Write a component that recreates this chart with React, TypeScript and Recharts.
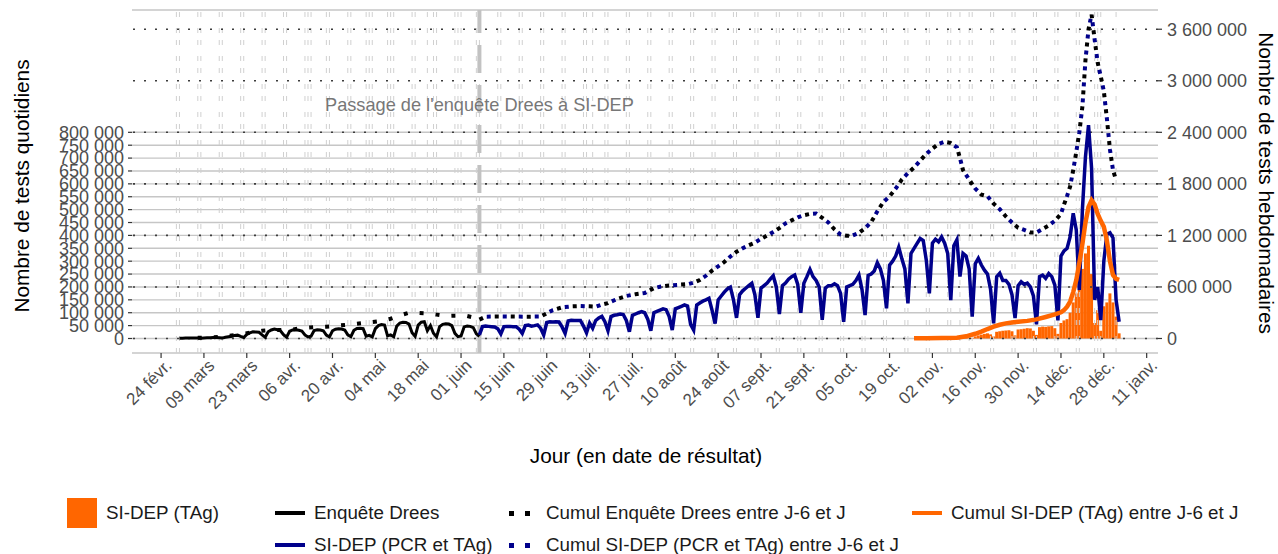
import { Bar, CartesianGrid, ComposedChart, Line, ReferenceLine, XAxis, YAxis } from 'recharts';

const FONT = '"Liberation Sans", Arial, Helvetica, sans-serif';
const WIDTH = 1278;
const HEIGHT = 554;

// x is counted in days since 24 Feb 2020 (first tick)
const ORIGIN = Date.UTC(2020, 1, 24);
const dayOf = (iso: string) => {
  const [y, m, d] = iso.split('-').map(Number);
  return Math.round((Date.UTC(y, m - 1, d) - ORIGIN) / 86400000);
};

const xTickLabels = [
  '24 févr.', '09 mars', '23 mars', '06 avr.', '20 avr.', '04 mai', '18 mai', '01 juin',
  '15 juin', '29 juin', '13 juil.', '27 juil.', '10 août', '24 août', '07 sept.', '21 sept.',
  '05 oct.', '19 oct.', '02 nov.', '16 nov.', '30 nov.', '14 déc.', '28 déc.', '11 janv.',
];
const dailyTicks = [
  0, 50000, 100000, 150000, 200000, 250000, 300000, 350000, 400000,
  450000, 500000, 550000, 600000, 650000, 700000, 750000, 800000,
];
const weeklyTicks = [0, 600000, 1200000, 1800000, 2400000, 3000000, 3600000];

// weekends between these dates + public holidays get a dashed vertical line
const offDaysFrom = '2020-02-29';
const offDaysTo = '2021-01-01';
const holidays = [
  '2020-04-13', '2020-05-01', '2020-05-08', '2020-05-21', '2020-06-01', '2020-07-14',
  '2020-08-15', '2020-11-01', '2020-11-11', '2020-12-25', '2021-01-01',
];
const switchDate = '2020-06-07';
const switchLabel = "Passage de l'enquête Drees à SI-DEP";

// daily counts, in thousands of tests
const dreesStart = '2020-03-01';
const dreesDaily = [
  0.5,
  1, 1.5, 1.5, 2, 2, 1.5, 1,
  2, 3, 3, 3.5, 3.5, 2.5, 1.5,
  5, 7, 9, 12, 13, 8, 4,
  16, 22, 26, 25, 24, 14, 5,
  26, 33, 37, 34, 30, 15, 5,
  28, 33, 34, 32, 29, 14, 6,
  9, 31, 34, 33, 30, 13, 6,
  30, 36, 38, 37, 33, 14, 7,
  32, 39, 40, 38, 9, 12, 6,
  38, 50, 54, 52, 10, 14, 7,
  48, 60, 63, 62, 56, 22, 8,
  52, 63, 65, 30, 50, 20, 6,
  46, 55, 57, 56, 50, 20, 7,
  10, 45, 48, 47, 42, 18, 8,
];

const sidepStart = '2020-06-07';
const sidepDaily = [
  14,
  46, 48, 47, 46, 45, 38, 18,
  46, 47, 47, 46, 46, 36, 20,
  50, 52, 48, 50, 53, 40, 14,
  62, 65, 64, 65, 64, 45, 20,
  68, 71, 70, 70, 70, 48, 22,
  60, 40, 70, 80, 86, 65, 30,
  85, 90, 92, 95, 93, 70, 26,
  90, 95, 100, 104, 100, 75, 30,
  100, 105, 110, 115, 112, 85, 33,
  115, 120, 125, 130, 126, 55, 33,
  130, 138, 145, 150, 156, 110, 58,
  150, 165, 180, 192, 199, 150, 80,
  170, 185, 195, 205, 214, 170, 80,
  195, 205, 215, 230, 243, 200, 95,
  205, 215, 230, 240, 246, 210, 100,
  214, 240, 268, 240, 225, 200, 72,
  195, 205, 205, 212, 205, 175, 65,
  200, 205, 210, 225, 246, 190, 91,
  245, 250, 262, 294, 270, 225, 117,
  285, 300, 320, 354, 310, 270, 136,
  330, 350, 369, 388, 380, 304, 175,
  370, 385, 375, 394, 370, 330, 149,
  360, 383, 240, 330, 320, 270, 85,
  290, 311, 285, 265, 250, 190, 59,
  240, 253, 225, 225, 210, 170, 79,
  205, 220, 210, 215, 200, 165, 55,
  240, 246, 233, 252, 240, 207, 70,
  320, 340, 350, 395, 486, 421, 188,
  500, 705, 828, 660, 150, 200, 71,
  300, 405, 410, 390, 150, 65,
];

const tagStart = '2020-10-28';
const tagDaily = [
  1, 1, 1, 1, 0.5, 1.5, 2,
  2, 2, 2.5, 2, 1, 3, 3.5,
  3, 4, 5, 4, 2, 8, 12,
  15, 18, 20, 16, 8, 26, 28,
  30, 31, 32, 28, 12, 35, 36,
  38, 40, 39, 30, 14, 44, 46,
  45, 47, 48, 40, 18, 60, 70,
  75, 100, 140, 175, 210, 270, 330,
  360, 250, 60, 110, 30, 125, 140,
  175, 140, 85, 20,
];

// rolling sums J-6..J, [day since 24 Feb 2020, thousands]
const dreesWeekly: [number, number][] = [
  [12, 8], [16, 14], [20, 20], [24, 38], [27, 55], [30, 72], [33, 90], [36, 99],
  [39, 100], [42, 100], [45, 115], [48, 126], [51, 133], [54, 137], [57, 148], [60, 158],
  [63, 168], [66, 180], [69, 192], [72, 205], [75, 230], [78, 268], [81, 300], [84, 298],
  [87, 293], [90, 278], [93, 262], [96, 266], [99, 270], [102, 245], [104, 220],
];
const sidepWeekly: [number, number][] = [
  [104, 220], [106, 254], [110, 256], [116, 255], [120, 254], [124, 256], [126, 293], [128, 330],
  [131, 362], [134, 374], [137, 378], [140, 375], [142, 370], [144, 395], [146, 412], [149, 460],
  [152, 495], [155, 515], [158, 530], [161, 585], [163, 603], [166, 618], [169, 625], [172, 632],
  [174, 650], [176, 681], [178, 730], [180, 790], [182, 840], [184, 890], [186, 955], [188, 1010],
  [190, 1050], [192, 1085], [194, 1115], [196, 1160], [198, 1200], [200, 1240], [202, 1285], [204, 1340],
  [206, 1375], [208, 1410], [210, 1435], [212, 1450], [214, 1455], [216, 1405], [218, 1350], [220, 1270],
  [222, 1210], [224, 1195], [226, 1200], [228, 1230], [230, 1283], [232, 1355], [234, 1480], [236, 1590],
  [238, 1655], [240, 1745], [242, 1850], [244, 1925], [246, 1990], [248, 2070], [250, 2150], [252, 2210],
  [254, 2265], [256, 2290], [258, 2275], [260, 2225], [261, 2100], [262, 1960], [264, 1850], [266, 1745],
  [268, 1675], [270, 1655], [272, 1570], [274, 1505], [276, 1420], [278, 1350], [280, 1290], [282, 1263],
  [284, 1235], [286, 1235], [288, 1275], [290, 1315], [292, 1370], [294, 1450], [295, 1560], [296, 1660],
  [297, 1770], [298, 1960], [299, 2170], [300, 2400], [301, 2700], [302, 3240], [303, 3600], [304, 3770],
  [305, 3480], [306, 3210], [307, 3050], [308, 2880], [309, 2560], [310, 2200], [311, 1960], [312, 1845],
];
const tagWeekly: [number, number][] = [
  [246, 2], [250, 4], [255, 6], [260, 10], [263, 25], [266, 55], [268, 80], [270, 110],
  [272, 137], [274, 160], [276, 176], [278, 186], [280, 195], [283, 205], [286, 222], [289, 250],
  [292, 280], [294, 305], [295, 330], [296, 370], [297, 430], [298, 540], [299, 680], [300, 880],
  [301, 1100], [302, 1350], [303, 1530], [304, 1610], [305, 1560], [306, 1450], [307, 1370], [308, 1300],
  [309, 1140], [310, 900], [311, 740], [312, 695], [313, 682],
];

const ORANGE = '#ff6600';
const NAVY = '#00008b';

const legendItems = [
  { name: 'SI-DEP (TAg)', kind: 'box', color: ORANGE, left: 67, top: 513 },
  { name: 'Enquête Drees', kind: 'line', color: '#000', left: 275, top: 513 },
  { name: 'SI-DEP (PCR et TAg)', kind: 'line', color: NAVY, left: 275, top: 545 },
  { name: 'Cumul Enquête Drees entre J-6 et J', kind: 'dots', color: '#000', left: 507, top: 513 },
  { name: 'Cumul SI-DEP (PCR et TAg) entre J-6 et J', kind: 'dots', color: NAVY, left: 507, top: 545 },
  { name: 'Cumul SI-DEP (TAg) entre J-6 et J', kind: 'line', color: ORANGE, left: 912, top: 513 },
];

// ----- tables handed to recharts -----
const rows: { d: number; drees?: number; sidep?: number; tag?: number }[] = [];
const d0 = dayOf(dreesStart);
const s0 = dayOf(sidepStart);
const t0 = dayOf(tagStart);
const lastDay = Math.max(s0 + sidepDaily.length, t0 + tagDaily.length) - 1;
for (let d = d0; d <= lastDay; d++) {
  const r: { d: number; drees?: number; sidep?: number; tag?: number } = { d };
  if (d - d0 < dreesDaily.length) r.drees = dreesDaily[d - d0] * 1000;
  if (d >= s0 && d - s0 < sidepDaily.length) r.sidep = sidepDaily[d - s0] * 1000;
  if (d >= t0 && d - t0 < tagDaily.length) r.tag = tagDaily[d - t0] * 1000;
  rows.push(r);
}
const toPoints = (arr: [number, number][]) => arr.map(([d, v]) => ({ d, w: v * 1000 }));
const dreesWeeklyPts = toPoints(dreesWeekly);
const sidepWeeklyPts = toPoints(sidepWeekly);
const tagWeeklyPts = toPoints(tagWeekly);

const offDays: number[] = [];
for (let d = dayOf(offDaysFrom); d <= dayOf(offDaysTo); d++) {
  if (d % 7 === 5 || d % 7 === 6) offDays.push(d);
}
holidays.forEach((h) => {
  const d = dayOf(h);
  if (!offDays.includes(d)) offDays.push(d);
});

const xTicks = xTickLabels.map((_, i) => i * 14);
const fmt = (v: number) => String(v).replace(/\B(?=(\d{3})+(?!\d))/g, ' ');

const TICK_STYLE = { fill: '#4d4d4d', fontSize: 18, fontFamily: FONT };

function DateTick(props: any) {
  const { x, y, payload } = props;
  const label = xTickLabels[Math.round(payload.value / 14)];
  const ax = x + 3;
  const ay = y - 2;
  return (
    <text
      x={ax}
      y={ay}
      dy="0.72em"
      transform={`rotate(-45 ${ax} ${ay})`}
      textAnchor="end"
      fill="#4d4d4d"
      fontSize={17}
      fontFamily={FONT}
    >
      {label}
    </text>
  );
}

function LegendKey({ kind, color }: { kind: string; color: string }) {
  if (kind === 'box') {
    return (
      <svg width={30} height={30} style={{ display: 'block' }}>
        <rect x={0} y={0} width={30} height={30} fill={color} />
      </svg>
    );
  }
  if (kind === 'dots') {
    return (
      <svg width={30} height={30} style={{ display: 'block' }}>
        <rect x={2} y={13} width={5} height={5} fill={color} />
        <rect x={18} y={13} width={5} height={5} fill={color} />
      </svg>
    );
  }
  return (
    <svg width={30} height={30} style={{ display: 'block' }}>
      <line x1={0} x2={30} y1={15} y2={15} stroke={color} strokeWidth={4} />
    </svg>
  );
}

export default function App() {
  return (
    <div
      style={{
        position: 'absolute',
        left: 0,
        top: 0,
        width: WIDTH,
        height: HEIGHT,
        background: '#fff',
        fontFamily: FONT,
      }}
    >
      <ComposedChart width={WIDTH} height={HEIGHT} data={rows} margin={{ top: 10, right: 0, bottom: 0, left: 0 }}>
        <XAxis
          type="number"
          dataKey="d"
          domain={[-9.5, 325.7]}
          allowDataOverflow
          ticks={xTicks}
          interval={0}
          height={201}
          tick={<DateTick />}
          tickSize={5}
          tickLine={{ stroke: '#333', strokeWidth: 1.2 }}
          axisLine={false}
        />
        <YAxis
          yAxisId="left"
          domain={[-56300, 1274600]}
          allowDataOverflow
          ticks={dailyTicks}
          interval={0}
          width={132}
          tickFormatter={fmt}
          tick={TICK_STYLE}
          tickSize={4}
          tickMargin={4}
          tickLine={{ stroke: '#333', strokeWidth: 1.2 }}
          axisLine={false}
        />
        <YAxis
          yAxisId="right"
          orientation="right"
          domain={[-168900, 3823800]}
          allowDataOverflow
          ticks={weeklyTicks}
          interval={0}
          width={120}
          tickFormatter={fmt}
          tick={TICK_STYLE}
          tickSize={4}
          tickMargin={5}
          tickLine={{ stroke: '#333', strokeWidth: 1.2 }}
          axisLine={false}
        />
        <CartesianGrid yAxisId="left" vertical={false} stroke="#c6c6c6" strokeWidth={1.4} />
        {offDays.map((d) => (
          <ReferenceLine
            key={`off-${d}`}
            x={d}
            yAxisId="left"
            stroke="#d0d0d0"
            strokeWidth={1}
            strokeDasharray="5 7 5 11"
          />
        ))}
        {weeklyTicks.map((v) => (
          <ReferenceLine
            key={`w-${v}`}
            y={v}
            yAxisId="right"
            stroke="#3c3c3c"
            strokeWidth={1.6}
            strokeDasharray="2 9"
          />
        ))}
        <ReferenceLine
          x={dayOf(switchDate)}
          yAxisId="left"
          stroke="#c2c2c2"
          strokeWidth={4}
          strokeDasharray="28 12"
          label={{
            value: switchLabel,
            position: 'insideTop',
            offset: 88,
            fill: '#777',
            fontSize: 18.2,
            fontFamily: FONT,
          }}
        />
        <Bar yAxisId="left" dataKey="tag" fill={ORANGE} barSize={3} isAnimationActive={false} />
        <Line
          yAxisId="left"
          dataKey="drees"
          type="linear"
          stroke="#000"
          strokeWidth={3}
          dot={false}
          isAnimationActive={false}
        />
        <Line
          yAxisId="left"
          dataKey="sidep"
          type="linear"
          stroke={NAVY}
          strokeWidth={3.5}
          dot={false}
          isAnimationActive={false}
        />
        {/* black dots: Drees sum, continued under the SI-DEP sum so both colours alternate */}
        <Line
          yAxisId="right"
          data={dreesWeeklyPts}
          dataKey="w"
          type="linear"
          stroke="#000"
          strokeWidth={4}
          strokeDasharray="4 12"
          dot={false}
          isAnimationActive={false}
        />
        <Line
          yAxisId="right"
          data={sidepWeeklyPts}
          dataKey="w"
          type="linear"
          stroke="#000"
          strokeWidth={4}
          strokeDasharray="4 12"
          dot={false}
          isAnimationActive={false}
          legendType="none"
        />
        <Line
          yAxisId="right"
          data={sidepWeeklyPts}
          dataKey="w"
          type="linear"
          stroke={NAVY}
          strokeWidth={4}
          strokeDasharray="0 8 4 4"
          dot={false}
          isAnimationActive={false}
        />
        <Line
          yAxisId="right"
          data={tagWeeklyPts}
          dataKey="w"
          type="linear"
          stroke={ORANGE}
          strokeWidth={4.5}
          dot={false}
          isAnimationActive={false}
        />
      </ComposedChart>

      <div
        style={{
          position: 'absolute',
          left: 22,
          top: 186,
          transform: 'translate(-50%, -50%) rotate(-90deg)',
          whiteSpace: 'nowrap',
          fontSize: 20.8,
          color: '#000',
        }}
      >
        Nombre de tests quotidiens
      </div>
      <div
        style={{
          position: 'absolute',
          left: 1266,
          top: 183,
          transform: 'translate(-50%, -50%) rotate(90deg)',
          whiteSpace: 'nowrap',
          fontSize: 20.8,
          color: '#000',
        }}
      >
        Nombre de tests hebdomadaires
      </div>
      <div
        style={{
          position: 'absolute',
          left: 646,
          top: 456,
          transform: 'translate(-50%, -50%)',
          whiteSpace: 'nowrap',
          fontSize: 20.8,
          color: '#000',
        }}
      >
        Jour (en date de résultat)
      </div>

      {legendItems.map((it) => (
        <div
          key={it.name}
          style={{
            position: 'absolute',
            left: it.left,
            top: it.top - 15,
            height: 30,
            display: 'flex',
            alignItems: 'center',
            whiteSpace: 'nowrap',
            fontSize: 18.8,
            color: '#1a1a1a',
          }}
        >
          <LegendKey kind={it.kind} color={it.color} />
          <span style={{ marginLeft: it.kind === 'dots' ? 9 : 9 }}>{it.name}</span>
        </div>
      ))}
    </div>
  );
}
